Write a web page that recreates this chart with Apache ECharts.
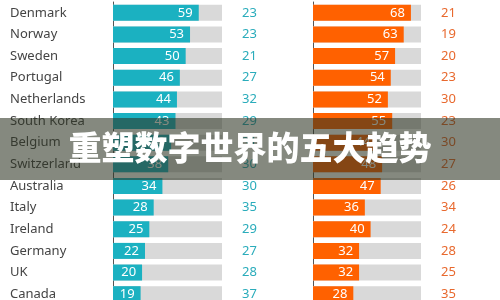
<!DOCTYPE html>
<html><head><meta charset="utf-8">
<script src="https://cdn.jsdelivr.net/npm/echarts@6/dist/echarts.min.js"></script>
<style>html,body{margin:0;padding:0;background:#fff;overflow:hidden}#c{width:500px;height:310px}</style>
</head><body><div id="c"></div>
<script>
const countries = ['Denmark','Norway','Sweden','Portugal','Netherlands','South Korea','Belgium','Switzerland','Australia','Italy','Ireland','Germany','UK','Canada'];
const leftVals = [59,53,50,46,44,43,40,38,34,28,25,22,20,19];
const leftOther = [23,23,21,27,32,29,31,30,30,35,29,27,28,37];
const rightVals = [68,63,57,54,52,55,44,48,47,36,40,32,32,28];
const rightOther = [21,19,20,23,30,23,30,27,26,34,24,28,25,35];
const title = '重塑数字世界的五大趋势';

const FONT = 'Noto Sans';
const chart = echarts.init(document.getElementById('c'), null, {renderer:'canvas'});
function barSeries(idx, data, color){
  return {
    type:'bar', xAxisIndex:idx, yAxisIndex:idx*2, data:data, barWidth:16,
    itemStyle:{color:color},
    showBackground:true, backgroundStyle:{color:'#d9d9d9'},
    label:{show:true, position:'insideRight', distance:6, color:'#fff', fontSize:13, fontFamily:FONT},
    silent:true, animation:false
  };
}
chart.setOption({
  animation:false,
  grid:[
    {left:113, top:2, width:109, height:303},
    {left:313, top:2, width:108, height:303}
  ],
  xAxis:[
    {gridIndex:0, type:'value', min:0, max:75, show:false},
    {gridIndex:1, type:'value', min:0, max:75, show:false}
  ],
  yAxis:[
    {gridIndex:0, type:'category', data:countries, inverse:true, position:'left',
     axisLine:{show:true, lineStyle:{color:'#555', width:1}}, axisTick:{show:false},
     axisLabel:{align:'left', margin:103, color:'#444', fontSize:13, fontFamily:FONT}},
    {gridIndex:0, type:'category', data:leftOther, inverse:true, position:'right',
     axisLine:{show:false}, axisTick:{show:false},
     axisLabel:{align:'left', margin:20, color:'#2aacbb', fontSize:13, fontFamily:FONT}},
    {gridIndex:1, type:'category', data:countries, inverse:true, position:'left',
     axisLine:{show:true, lineStyle:{color:'#555', width:1}}, axisTick:{show:false},
     axisLabel:{show:false}},
    {gridIndex:1, type:'category', data:rightOther, inverse:true, position:'right',
     axisLine:{show:false}, axisTick:{show:false},
     axisLabel:{align:'left', margin:20, color:'#e8692e', fontSize:13, fontFamily:FONT}}
  ],
  series:[
    barSeries(0, leftVals, '#1bb1c1'),
    barSeries(1, rightVals, '#ff6100')
  ],
  graphic:[
    {type:'rect', left:0, top:118, shape:{width:500, height:62}, style:{fill:'rgba(45,52,35,0.58)'}, z:100},
    {type:'text', left:'center', top:131, z:101,
     style:{text:title, fill:'#fff', font:'900 33px "Noto Sans CJK SC"'}}
  ]
});
</script></body></html>
